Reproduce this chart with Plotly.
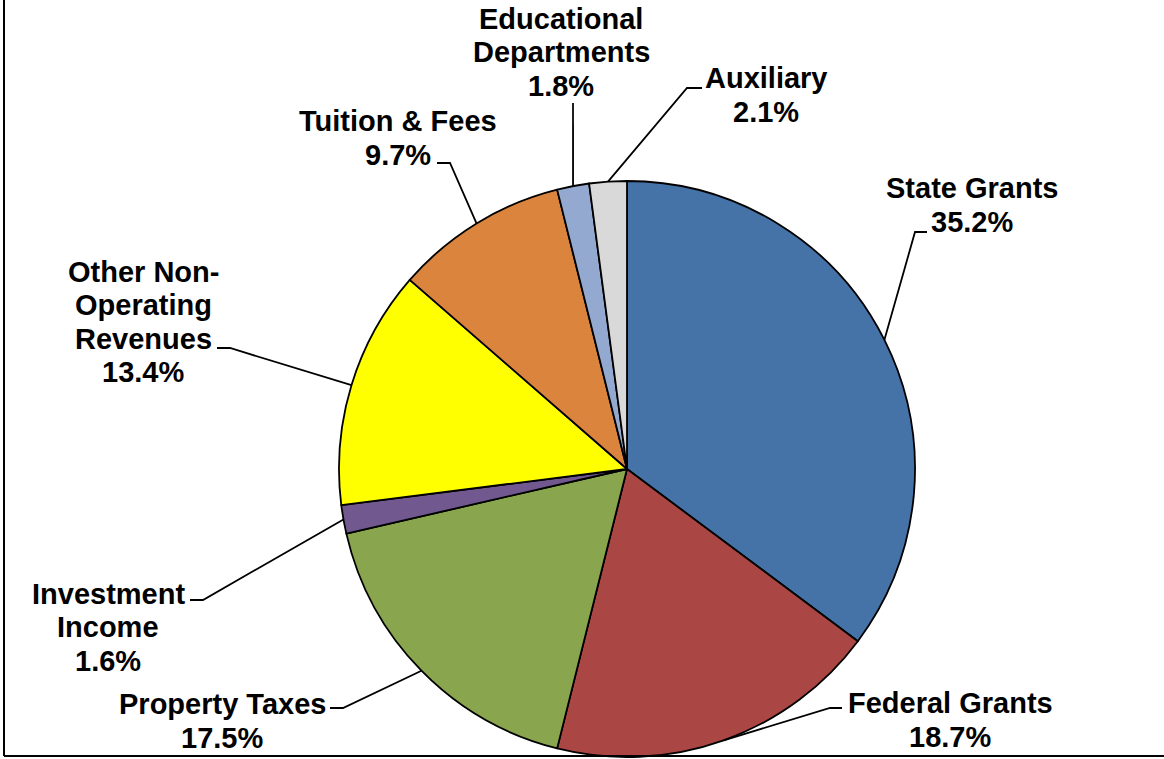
import math
import plotly.graph_objects as go

# ---------------- data ----------------
categories = ["State Grants", "Federal Grants", "Property Taxes", "Investment Income",
              "Other Non-Operating Revenues", "Tuition & Fees", "Educational Departments", "Auxiliary"]
shares = [35.2, 18.7, 17.5, 1.6, 13.4, 9.7, 1.8, 2.1]
label_lines = [["State Grants"], ["Federal Grants"], ["Property Taxes"], ["Investment", "Income"],
               ["Other Non-", "Operating", "Revenues"], ["Tuition & Fees"],
               ["Educational", "Departments"], ["Auxiliary"]]

# ---------------- style / layout ----------------
colors = ["#4572A7", "#AA4643", "#89A54E", "#71588F", "#FFFF00", "#DB843D", "#93A9CF", "#D9D9D9"]
W, H = 1164, 759
CX, CY, R = 627, 469, 288
FONT = "Liberation Sans, Arial, sans-serif"
FS = 29
LINE_H = 33.5
# label block centres (px)
label_pos = [(972, 205), (950, 720), (222, 721), (108, 627), (143, 322), (398, 138), (561, 52), (766, 95)]
# leader elbow (x, y) and end x (px)
elbows = [(915, 232, 927), (830, 708, 842), (343, 708, 330), (203, 600, 190),
          (230, 348, 217), (450, 163, 437), (573, 103, 573), (687, 88, 702)]


def px(x):
    return x / W


def py(y):
    return 1 - y / H


fig = go.Figure()
fig.add_trace(go.Pie(
    labels=categories, values=shares, sort=False, direction="clockwise", rotation=0,
    marker=dict(colors=colors, line=dict(color="black", width=1.8)),
    textinfo="none", hoverinfo="label+percent", showlegend=False,
    domain=dict(x=[px(CX - R), px(CX + R)], y=[py(CY + R), py(CY - R)]),
))

shapes = []
annotations = []
total = sum(shares)
cum = 0.0
for i, v in enumerate(shares):
    mid = (cum + v / 2) / total * 2 * math.pi
    cum += v
    ax = CX + R * math.sin(mid)
    ay = CY - R * math.cos(mid)
    ex, ey, endx = elbows[i]
    shapes.append(dict(type="path", xref="paper", yref="paper",
                       path=f"M {px(ax)},{py(ay)} L {px(ex)},{py(ey)} L {px(endx)},{py(ey)}",
                       line=dict(color="black", width=1.8), layer="above"))
    lines = label_lines[i] + [f"{v:.1f}%"]
    n = len(lines)
    lx, ly = label_pos[i]
    for j, t in enumerate(lines):
        yy = ly + (j - (n - 1) / 2) * LINE_H
        annotations.append(dict(x=px(lx), y=py(yy), xref="paper", yref="paper",
                                text=f"<b>{t}</b>", showarrow=False,
                                xanchor="center", yanchor="middle",
                                font=dict(family=FONT, size=FS, color="black")))

# outer frame (left and bottom edges visible)
shapes.append(dict(type="line", xref="paper", yref="paper", x0=px(4), x1=px(4), y0=py(0), y1=py(756),
                   line=dict(color="black", width=2)))
shapes.append(dict(type="line", xref="paper", yref="paper", x0=px(4), x1=1, y0=py(756), y1=py(756),
                   line=dict(color="black", width=2)))

fig.update_layout(width=W, height=H, margin=dict(l=0, r=0, t=0, b=0),
                  paper_bgcolor="white", plot_bgcolor="white",
                  shapes=shapes, annotations=annotations)
fig.write_html("out.html", config={"displayModeBar": False},
               post_script="document.body.style.margin='0';document.body.style.overflow='hidden';")
